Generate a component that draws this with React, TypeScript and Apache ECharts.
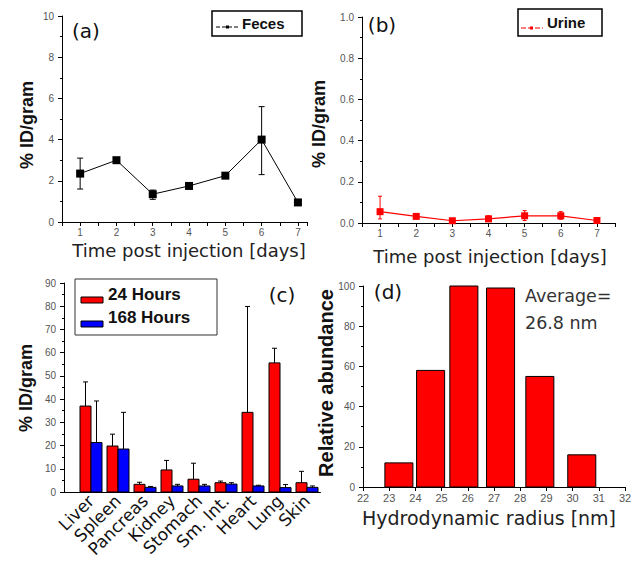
import React, { useEffect, useRef } from "react";
import * as echarts from "echarts";

// Panel (a) / (b): time post injection
const days = [1, 2, 3, 4, 5, 6, 7];
const fecesMean = [2.35, 3.0, 1.35, 1.75, 2.25, 4.0, 0.95];
const fecesLow = [1.6, 2.92, 1.1, 1.68, 2.17, 2.3, 0.88];
const fecesHigh = [3.1, 3.08, 1.55, 1.82, 2.33, 5.6, 1.02];
const urineMean = [0.055, 0.032, 0.011, 0.02, 0.035, 0.035, 0.012];
const urineLow = [0.02, 0.028, 0.008, 0.008, 0.012, 0.018, 0.01];
const urineHigh = [0.13, 0.036, 0.014, 0.035, 0.06, 0.055, 0.015];

// Panel (c): organ biodistribution
const organs = ["Liver", "Spleen", "Pancreas", "Kidney", "Stomach", "Sm. Int.", "Heart", "Lung", "Skin"];
const hours24 = [37.0, 19.8, 3.3, 9.5, 5.5, 4.0, 34.3, 55.6, 4.0];
const hours24Top = [47.4, 24.9, 4.2, 13.6, 12.4, 4.7, 79.9, 61.9, 8.9];
const hours168 = [21.3, 18.5, 2.0, 2.6, 2.6, 3.4, 2.6, 1.9, 2.0];
const hours168Top = [39.2, 34.3, 2.4, 3.3, 3.3, 4.0, 2.9, 3.2, 2.6];

// Panel (d): hydrodynamic radius histogram
const radiusCenters = [23.37, 24.58, 25.85, 27.25, 28.75, 30.35];
const abundance = [12, 58, 100, 99, 55, 16];
const binWidth = 1.07;

const axisLine = { lineStyle: { color: "#000", width: 1 } };
const axisTick = { length: 4, lineStyle: { color: "#000", width: 1 } };
const minorTick = { show: true, splitNumber: 2, length: 2, lineStyle: { color: "#000", width: 1 } };
const tickLabel = { fontSize: 10, color: "#555", fontFamily: "Liberation Sans" };

function errRender(color: string, cap: number) {
  return (params: any, api: any) => {
    const x = api.value(0);
    const lo = api.coord([x, api.value(1)]);
    const hi = api.coord([x, api.value(2)]);
    const style = { stroke: color, lineWidth: 1 };
    return {
      type: "group",
      children: [
        { type: "line", shape: { x1: lo[0], y1: lo[1], x2: hi[0], y2: hi[1] }, style },
        { type: "line", shape: { x1: hi[0] - cap, y1: hi[1], x2: hi[0] + cap, y2: hi[1] }, style },
        { type: "line", shape: { x1: lo[0] - cap, y1: lo[1], x2: lo[0] + cap, y2: lo[1] }, style },
      ],
    };
  };
}

function barRender(color: string, offset: number, width: number) {
  return (params: any, api: any) => {
    const x = api.value(0);
    const base = api.coord([x, 0]);
    const top = api.coord([x, api.value(1)]);
    return {
      type: "rect",
      shape: { x: base[0] + offset, y: top[1], width, height: base[1] - top[1] },
      style: { fill: color, stroke: "#000", lineWidth: 1 },
    };
  };
}

function upErrRender(offset: number) {
  return (params: any, api: any) => {
    const x = api.value(0);
    const b = api.coord([x, api.value(1)]);
    const t = api.coord([x, api.value(2)]);
    const cx = b[0] + offset;
    const style = { stroke: "#000", lineWidth: 1 };
    return {
      type: "group",
      children: [
        { type: "line", shape: { x1: cx, y1: b[1], x2: cx, y2: t[1] }, style },
        { type: "line", shape: { x1: cx - 2.5, y1: t[1], x2: cx + 2.5, y2: t[1] }, style },
      ],
    };
  };
}

function histRender(params: any, api: any) {
  const x = api.value(0);
  const base = api.coord([x, 0]);
  const top = api.coord([x, api.value(1)]);
  const w = api.size([binWidth, 0])[0];
  return {
    type: "rect",
    shape: { x: base[0] - w / 2, y: top[1], width: w, height: base[1] - top[1] },
    style: { fill: "#ff0000", stroke: "#000", lineWidth: 1 },
  };
}

const titleFont = "18px 'DejaVu Sans'";
const yTitleFont = "bold 18px 'Liberation Sans'";

export default function App() {
  const ref = useRef<HTMLDivElement>(null);
  useEffect(() => {
    if (!ref.current) return;
    const chart = echarts.init(ref.current, null, { renderer: "svg" });
    const intFmt = (v: number) => (Number.isInteger(v) ? String(v) : "");
    const option: any = {
      animation: false,
      backgroundColor: "#fff",
      grid: [
        { left: 62, top: 16, width: 245, height: 206 },
        { left: 362, top: 17, width: 253, height: 206 },
        { left: 64, top: 283, width: 256.5, height: 209 },
        { left: 363, top: 286, width: 262, height: 201 },
      ],
      xAxis: [
        {
          gridIndex: 0, type: "value", min: 0.5, max: 7.25, interval: 0.5,
          axisLine, axisTick, splitLine: { show: false },
          axisLabel: { ...tickLabel, margin: 5, formatter: intFmt },
        },
        {
          gridIndex: 1, type: "value", min: 0.5, max: 7.5, interval: 0.5,
          axisLine, axisTick, splitLine: { show: false },
          axisLabel: { ...tickLabel, margin: 5, formatter: intFmt },
        },
        {
          gridIndex: 2, type: "value", min: 0, max: 9.5, interval: 1,
          axisLine, axisTick: { show: false }, splitLine: { show: false },
          axisLabel: {
            fontSize: 17, color: "#111", fontFamily: "DejaVu Sans", rotate: 45, margin: 6,
            formatter: (v: number) => (Number.isInteger(v) && v >= 1 && v <= organs.length ? organs[v - 1] : ""),
          },
        },
        {
          gridIndex: 3, type: "value", min: 22, max: 32, interval: 1,
          axisLine, axisTick, splitLine: { show: false },
          axisLabel: { ...tickLabel, fontSize: 11, margin: 5 },
        },
      ],
      yAxis: [
        {
          gridIndex: 0, type: "value", min: 0, max: 10, interval: 2,
          axisLine: { show: true, ...axisLine }, axisTick: { show: true, ...axisTick }, minorTick,
          splitLine: { show: false }, axisLabel: { ...tickLabel, margin: 8 },
        },
        {
          gridIndex: 1, type: "value", min: 0, max: 1, interval: 0.2,
          axisLine: { show: true, ...axisLine }, axisTick: { show: true, ...axisTick }, minorTick,
          splitLine: { show: false }, axisLabel: { ...tickLabel, margin: 8, formatter: (v: number) => v.toFixed(1) },
        },
        {
          gridIndex: 2, type: "value", min: 0, max: 90, interval: 10,
          axisLine: { show: true, ...axisLine }, axisTick: { show: true, ...axisTick }, minorTick,
          splitLine: { show: false }, axisLabel: { ...tickLabel, margin: 8 },
        },
        {
          gridIndex: 3, type: "value", min: 0, max: 100, interval: 20,
          axisLine: { show: true, ...axisLine }, axisTick: { show: true, ...axisTick }, minorTick,
          splitLine: { show: false }, axisLabel: { ...tickLabel, margin: 8 },
        },
      ],
      series: [
        {
          type: "custom", xAxisIndex: 0, yAxisIndex: 0, renderItem: errRender("#000", 3),
          data: days.map((d, i) => [d, fecesLow[i], fecesHigh[i]]), z: 3,
        },
        {
          type: "line", xAxisIndex: 0, yAxisIndex: 0, name: "Feces",
          data: days.map((d, i) => [d, fecesMean[i]]),
          symbol: "rect", symbolSize: 8, itemStyle: { color: "#000" },
          lineStyle: { color: "#000", width: 1 }, z: 4,
        },
        {
          type: "custom", xAxisIndex: 1, yAxisIndex: 1, renderItem: errRender("#ff0000", 2),
          data: days.map((d, i) => [d, urineLow[i], urineHigh[i]]), z: 3,
        },
        {
          type: "line", xAxisIndex: 1, yAxisIndex: 1, name: "Urine",
          data: days.map((d, i) => [d, urineMean[i]]),
          symbol: "rect", symbolSize: 7, itemStyle: { color: "#ff0000" },
          lineStyle: { color: "#ff0000", width: 1.2 }, z: 4,
        },
        {
          type: "custom", xAxisIndex: 2, yAxisIndex: 2, name: "24 Hours",
          renderItem: barRender("#ff0000", -11, 11),
          data: organs.map((_, i) => [i + 1, hours24[i]]), z: 2,
        },
        {
          type: "custom", xAxisIndex: 2, yAxisIndex: 2, name: "168 Hours",
          renderItem: barRender("#0000ff", 0, 11),
          data: organs.map((_, i) => [i + 1, hours168[i]]), z: 2,
        },
        {
          type: "custom", xAxisIndex: 2, yAxisIndex: 2, renderItem: upErrRender(-5.5),
          data: organs.map((_, i) => [i + 1, hours24[i], hours24Top[i]]), z: 3,
        },
        {
          type: "custom", xAxisIndex: 2, yAxisIndex: 2, renderItem: upErrRender(5.5),
          data: organs.map((_, i) => [i + 1, hours168[i], hours168Top[i]]), z: 3,
        },
        {
          type: "custom", xAxisIndex: 3, yAxisIndex: 3, renderItem: histRender,
          data: radiusCenters.map((c, i) => [c, abundance[i]]), z: 2,
        },
      ],
      graphic: [
        // axis titles
        { type: "text", x: 27, y: 125, rotation: Math.PI / 2, style: { text: "% ID/gram", font: yTitleFont, fill: "#111", align: "center", verticalAlign: "middle" } },
        { type: "text", x: 189, y: 250, style: { text: "Time post injection [days]", font: titleFont, fill: "#222", align: "center", verticalAlign: "middle" } },
        { type: "text", x: 319, y: 124, rotation: Math.PI / 2, style: { text: "% ID/gram", font: yTitleFont, fill: "#111", align: "center", verticalAlign: "middle" } },
        { type: "text", x: 490, y: 256, style: { text: "Time post injection [days]", font: titleFont, fill: "#222", align: "center", verticalAlign: "middle" } },
        { type: "text", x: 26, y: 388, rotation: Math.PI / 2, style: { text: "% ID/gram", font: yTitleFont, fill: "#111", align: "center", verticalAlign: "middle" } },
        { type: "text", x: 326, y: 383, rotation: Math.PI / 2, style: { text: "Relative abundance", font: "bold 20px 'Liberation Sans'", fill: "#111", align: "center", verticalAlign: "middle" } },
        { type: "text", x: 489, y: 518, style: { text: "Hydrodynamic radius [nm]", font: "19px 'DejaVu Sans'", fill: "#222", align: "center", verticalAlign: "middle" } },
        // panel labels
        { type: "text", x: 86, y: 31, style: { text: "(a)", font: "20px 'DejaVu Sans'", fill: "#111", align: "center", verticalAlign: "middle" } },
        { type: "text", x: 382, y: 25, style: { text: "(b)", font: "20px 'DejaVu Sans'", fill: "#111", align: "center", verticalAlign: "middle" } },
        { type: "text", x: 282, y: 295, style: { text: "(c)", font: "20px 'DejaVu Sans'", fill: "#111", align: "center", verticalAlign: "middle" } },
        { type: "text", x: 388, y: 292, style: { text: "(d)", font: "20px 'DejaVu Sans'", fill: "#111", align: "center", verticalAlign: "middle" } },
        // annotation in (d)
        { type: "text", x: 525, y: 296, style: { text: "Average=", font: "17.5px 'DejaVu Sans'", fill: "#333", align: "left", verticalAlign: "middle" } },
        { type: "text", x: 525, y: 323, style: { text: "26.8 nm", font: "17.5px 'DejaVu Sans'", fill: "#333", align: "left", verticalAlign: "middle" } },
        // legend (a)
        { type: "rect", shape: { x: 212, y: 11, width: 90, height: 25 }, style: { fill: "#fff", stroke: "#000", lineWidth: 1.5 } },
        { type: "line", shape: { x1: 216, y1: 27, x2: 239, y2: 27 }, style: { stroke: "#000", lineWidth: 1, lineDash: [4, 2] } },
        { type: "rect", shape: { x: 226, y: 25.5, width: 3, height: 3 }, style: { fill: "#000" } },
        { type: "text", x: 242, y: 23, style: { text: "Feces", font: "bold 15px 'Liberation Sans'", fill: "#111", align: "left", verticalAlign: "middle" } },
        // legend (b)
        { type: "rect", shape: { x: 518, y: 9, width: 84, height: 27 }, style: { fill: "#fff", stroke: "#000", lineWidth: 1.5 } },
        { type: "line", shape: { x1: 521, y1: 28, x2: 543, y2: 28 }, style: { stroke: "#ff0000", lineWidth: 1.2, lineDash: [5, 2] } },
        { type: "rect", shape: { x: 530, y: 26.5, width: 3, height: 3 }, style: { fill: "#ff0000" } },
        { type: "text", x: 547, y: 22, style: { text: "Urine", font: "bold 15px 'Liberation Sans'", fill: "#111", align: "left", verticalAlign: "middle" } },
        // legend (c)
        { type: "rect", shape: { x: 75, y: 279, width: 142, height: 56 }, style: { fill: "#fff", stroke: "#333", lineWidth: 1 } },
        { type: "rect", shape: { x: 81, y: 297, width: 22, height: 6 }, style: { fill: "#ff0000", stroke: "#000", lineWidth: 1 } },
        { type: "text", x: 108, y: 294, style: { text: "24 Hours", font: "bold 17px 'Liberation Sans'", fill: "#111", align: "left", verticalAlign: "middle" } },
        { type: "rect", shape: { x: 81, y: 321, width: 22, height: 6 }, style: { fill: "#0000ff", stroke: "#000", lineWidth: 1 } },
        { type: "text", x: 108, y: 317, style: { text: "168 Hours", font: "bold 17px 'Liberation Sans'", fill: "#111", align: "left", verticalAlign: "middle" } },
      ],
    };
    chart.setOption(option);
    return () => chart.dispose();
  }, []);
  return <div ref={ref} style={{ position: "fixed", left: 0, top: 0, width: 638, height: 573 }} />;
}
